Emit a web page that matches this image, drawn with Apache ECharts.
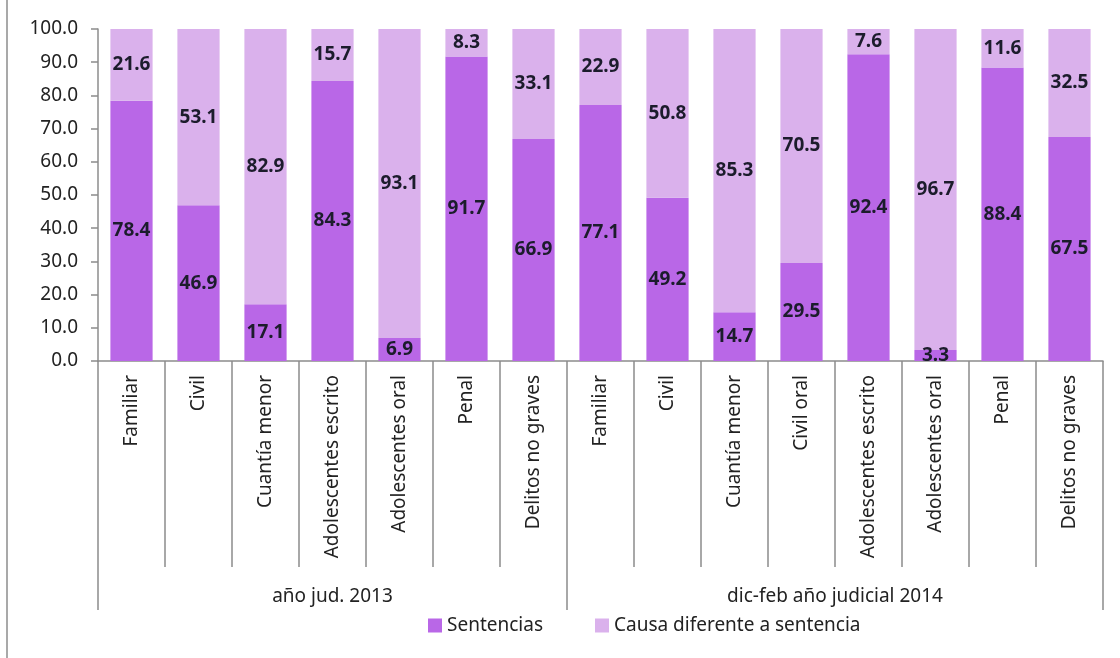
<!DOCTYPE html>
<html>
<head>
<meta charset="utf-8">
<script src="https://cdn.jsdelivr.net/npm/echarts@6/dist/echarts.min.js"></script>
<style>html,body{margin:0;padding:0;background:#fff}#c{width:1120px;height:658px}</style>
</head>
<body>
<div id="c"></div>
<script>
const categories = ['Familiar','Civil','Cuantía menor','Adolescentes escrito','Adolescentes oral','Penal','Delitos no graves',
  'Familiar','Civil','Cuantía menor','Civil oral','Adolescentes escrito','Adolescentes oral','Penal','Delitos no graves'];
const groups = ['año jud. 2013','dic-feb año judicial 2014'];
const groupSizes = [7, 8];
const sentencias = [78.4,46.9,17.1,84.3,6.9,91.7,66.9,77.1,49.2,14.7,29.5,92.4,3.3,88.4,67.5];
const causaDiferente = [21.6,53.1,82.9,15.7,93.1,8.3,33.1,22.9,50.8,85.3,70.5,7.6,96.7,11.6,32.5];
const seriesNames = ['Sentencias','Causa diferente a sentencia'];

// group boundaries and centres (in category units)
const groupBounds = [0];
groupSizes.forEach(s => groupBounds.push(groupBounds[groupBounds.length - 1] + s));
const groupCenters = groupSizes.map((s, i) => groupBounds[i] + s / 2);

const FONT = 'Noto Sans';
const AX = '#8c8c8c';
const chart = echarts.init(document.getElementById('c'));
const labelStyle = {
  show: true, position: 'inside', color: '#1c1c2c', fontFamily: FONT, fontSize: 19, fontWeight: 'bold',
  formatter: p => p.value.toFixed(1)
};
chart.setOption({
  animation: false,
  textStyle: {fontFamily: FONT},
  grid: {left: 98, right: 17, top: 29, bottom: 297},
  legend: {
    left: 423, top: 611, itemWidth: 14, itemHeight: 14, itemGap: 52,
    icon: 'rect',
    textStyle: {fontFamily: FONT, fontSize: 19, color: '#222'},
    data: seriesNames
  },
  xAxis: [{
    type: 'category', data: categories, position: 'bottom',
    axisLine: {show: true, lineStyle: {color: AX, width: 1.5}},
    axisTick: {show: true, interval: 0, length: 206, lineStyle: {color: AX, width: 1.5}},
    axisLabel: {interval: 0, rotate: 90, margin: 14, fontFamily: FONT, fontSize: 19, color: '#222'}
  }, {
    type: 'value', min: 0, max: groupBounds[groupBounds.length - 1], position: 'bottom',
    axisLine: {show: false},
    splitLine: {show: false},
    axisTick: {show: true, customValues: groupBounds, length: 249, lineStyle: {color: AX, width: 1.5}},
    axisLabel: {
      show: true, customValues: groupCenters, margin: 226, fontFamily: FONT, fontSize: 19, color: '#222',
      formatter: v => groups[groupCenters.indexOf(v)] || ''
    }
  }],
  yAxis: {
    type: 'value', min: 0, max: 100, interval: 10,
    splitLine: {show: false},
    axisLine: {show: true, lineStyle: {color: AX, width: 1.5}},
    axisTick: {show: true, length: 7, lineStyle: {color: AX, width: 1.5}},
    axisLabel: {margin: 20, fontFamily: FONT, fontSize: 19, color: '#222', formatter: v => v.toFixed(1)}
  },
  series: [{
    name: seriesNames[0], type: 'bar', stack: 'total', data: sentencias, barCategoryGap: '37%',
    itemStyle: {color: '#B967E7'}, label: labelStyle
  }, {
    name: seriesNames[1], type: 'bar', stack: 'total', data: causaDiferente, barCategoryGap: '37%',
    itemStyle: {color: '#DAB1EC'}, label: labelStyle
  }],
  graphic: [{
    type: 'line', shape: {x1: 7, y1: 0, x2: 7, y2: 658},
    style: {stroke: AX, lineWidth: 1.5}
  }]
});
</script>
</body>
</html>
